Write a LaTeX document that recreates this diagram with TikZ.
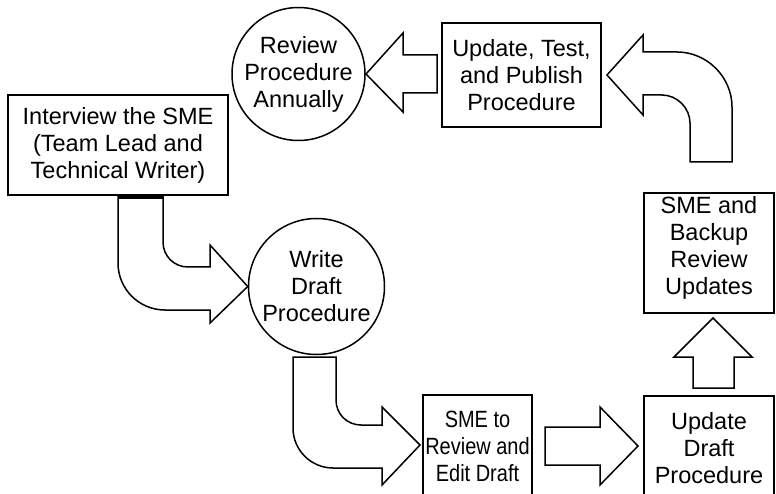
\documentclass[tikz,border=0pt]{standalone}
\usepackage{fontspec}
\setmainfont{Liberation Sans}
\begin{document}
\begin{tikzpicture}[x=1pt,y=-1pt,
  every node/.style={font=\fontsize{23.5}{27}\selectfont, align=center, inner sep=0pt},
  stepbox/.style={draw, line width=1.5pt, rectangle},
  stepcircle/.style={draw, line width=1.5pt, circle},
  narrowtext/.style={xscale=0.85, transform shape},
  blockarrow/.style={draw, line width=1.5pt, fill=white}]
\useasboundingbox (0,0) rectangle (776,494);

% process steps
\node[stepbox, minimum width=220, minimum height=100] (interview) at (118,145)
  {Interview the SME\\(Team Lead and\\Technical Writer)};
\node[stepcircle, minimum size=133] (review) at (298.5,74)
  {Review\\Procedure\\Annually};
\node[stepbox, minimum width=159, minimum height=104] (publish) at (521.5,75)
  {Update, Test,\\and Publish\\Procedure};
\node[stepcircle, minimum size=136] (write) at (316.5,286.5)
  {Write\\Draft\\Procedure};
\node[stepbox, minimum width=109, minimum height=105] (smereview) at (477.5,447.5) {};
\node[narrowtext] (smereviewtext) at (477.5,446) {SME to\\Review and\\Edit Draft};
\node[stepbox, minimum width=130, minimum height=104] (updatedraft) at (709,448)
  {Update\\Draft\\Procedure};
\node[stepbox, minimum width=130, minimum height=120] (backup) at (709,253) {};
\node (backuptext) at (709,247.5) {SME and\\Backup\\Review\\Updates};

% bent arrow: interview -> write draft
\draw[blockarrow] (118,197) -- (118,263) .. controls (118,289) and (139,310) .. (165,310)
  -- (210,310) -- (210,323) -- (write.west) -- (210,245) -- (210,267) -- (188,267)
  .. controls (174,267) and (163,256) .. (163,242) -- (163,197) -- cycle;
\fill (118,194) rectangle (163,199);

% bent arrow: write draft -> SME review
\draw[blockarrow] (293,357) -- (293,428) .. controls (293,450) and (311,468) .. (333,468)
  -- (382,468) -- (382,485) -- (420,445) -- (382,407) -- (382,425) -- (361,425)
  .. controls (347,425) and (336,414) .. (336,400) -- (336,357) -- cycle;

% straight arrow: SME review -> update draft
\draw[blockarrow] (545,427) -- (600,427) -- (600,407) -- (638,446) -- (600,485)
  -- (600,465) -- (545,465) -- cycle;

% straight arrow: update draft -> backup review
\draw[blockarrow] (693,388) -- (693,357) -- (674,357) -- (713,318) -- (752,357)
  -- (734,357) -- (734,388) -- cycle;

% bent arrow: backup review -> publish
\draw[blockarrow] (732,162) -- (732,107) .. controls (732,77) and (707,52) .. (677,52)
  -- (643,52) -- (643,35) -- (607,75) -- (643,115) -- (643,95) -- (662,95)
  .. controls (677,95) and (690,108) .. (690,123) -- (690,162) -- cycle;

% straight arrow: publish -> annual review
\draw[blockarrow] (437,55) -- (403,55) -- (403,33) -- (366,74) -- (403,112)
  -- (403,93) -- (437,93) -- cycle;
\end{tikzpicture}
\end{document}
